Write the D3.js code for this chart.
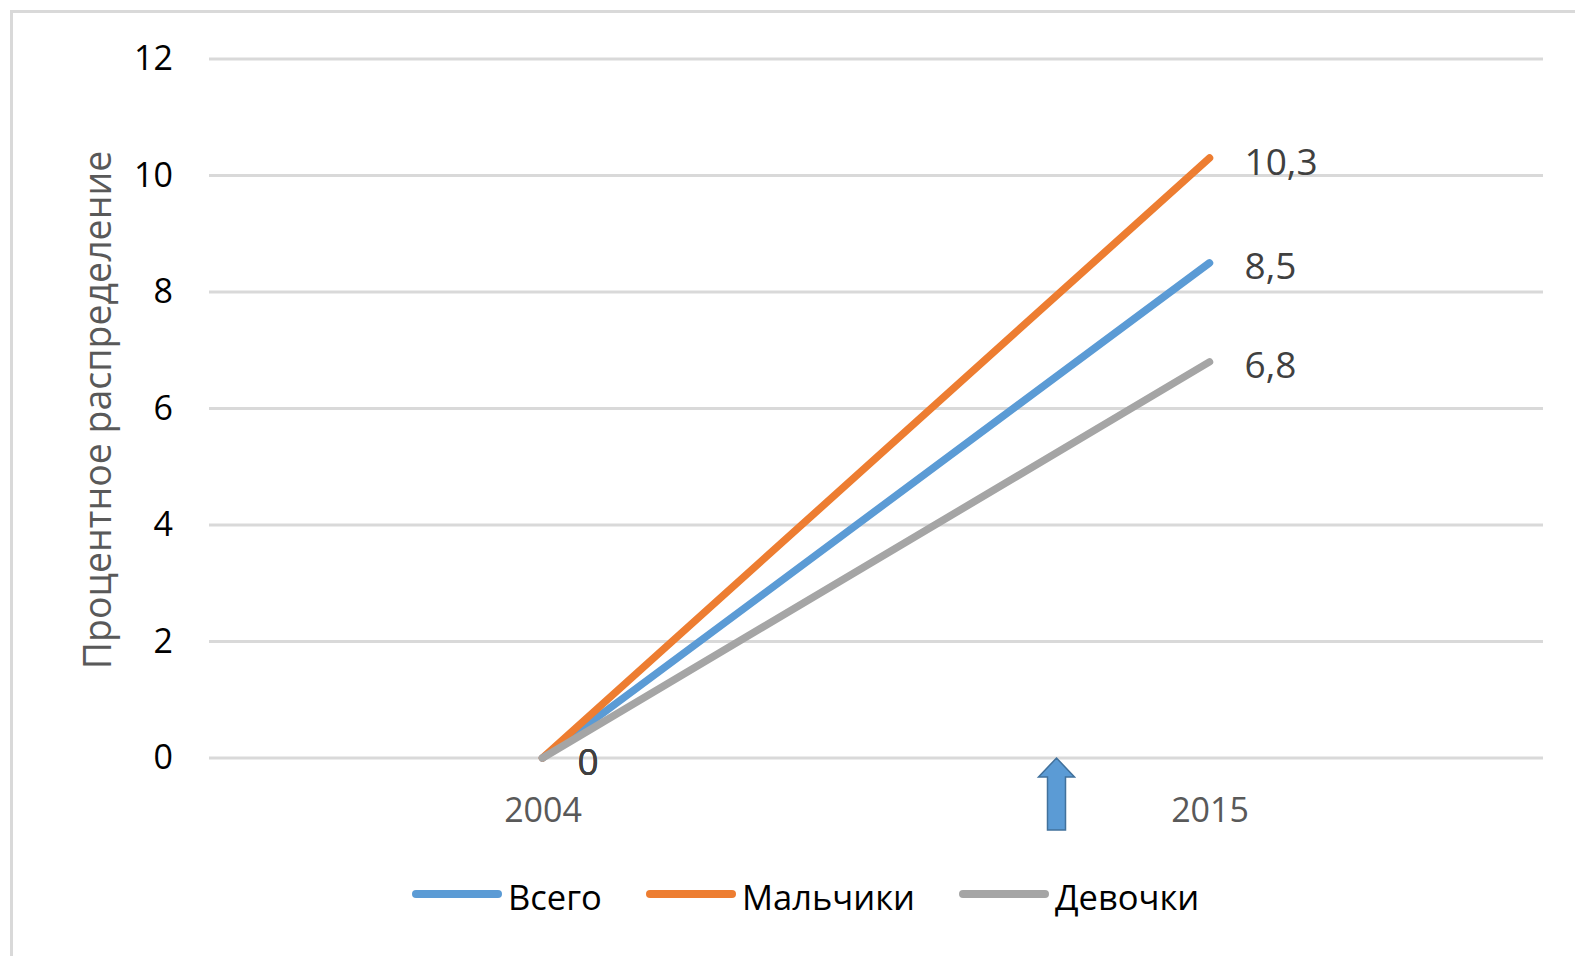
<!DOCTYPE html>
<html>
<head>
<meta charset="utf-8">
<script src="https://cdn.jsdelivr.net/npm/d3@7"></script>
<style>
  body { margin: 0; background: #fff; }
  svg text { font-family: "Open Sans", sans-serif; }
</style>
</head>
<body>
<div id="chart"></div>
<script>
// data
const years = ['2004', '2015'];
const seriesNames = ['Всего', 'Мальчики', 'Девочки'];
const totalValues = [0, 8.5];
const boysValues = [0, 10.3];
const girlsValues = [0, 6.8];
const yTicks = [0, 2, 4, 6, 8, 10, 12];
const colors = ['#5B9BD5', '#ED7D31', '#A5A5A5'];

const width = 1575;
const height = 956;
const margin = { top: 59, right: 32, bottom: 198, left: 209 };

const svg = d3.select('div#chart').append('svg').attr('width', width).attr('height', height);

// chart border
svg.append('rect')
    .attr('x', 11.5).attr('y', 11.5)
    .attr('width', width).attr('height', height)
    .attr('fill', 'none').attr('stroke', '#d9d9d9').attr('stroke-width', 3);

const x = d3.scalePoint().domain(years).range([margin.left, width - margin.right]).padding(0.5);
const y = d3.scaleLinear().domain([0, 12]).range([height - margin.bottom, margin.top]);

// grid
const gridGroup = svg.append('g').attr('class', 'grid');
gridGroup.selectAll('line').data(yTicks).enter().append('line')
    .attr('x1', margin.left).attr('x2', width - margin.right)
    .attr('y1', d => y(d)).attr('y2', d => y(d))
    .attr('stroke', '#d9d9d9').attr('stroke-width', 3);

// y axis
const yAxis = d3.axisLeft(y).tickValues(yTicks).tickSize(0).tickPadding(0);
const yAxisGroup = svg.append('g').attr('transform', `translate(${173},0)`).call(yAxis);
yAxisGroup.select('.domain').remove();
yAxisGroup.selectAll('text').attr('font-size', 34).attr('fill', '#000').attr('font-family', '"Open Sans", sans-serif');

// x axis
const xAxis = d3.axisBottom(x).tickSize(0).tickPadding(0);
const xAxisGroup = svg.append('g').attr('transform', `translate(0,${y(0) + 40})`).call(xAxis);
xAxisGroup.select('.domain').remove();
xAxisGroup.selectAll('text').attr('font-size', 34).attr('fill', '#595959').attr('font-family', '"Open Sans", sans-serif');

// axis title
svg.append('text')
    .attr('transform', `translate(96,${410}) rotate(-90)`)
    .attr('text-anchor', 'middle').attr('dominant-baseline', 'central')
    .attr('font-size', 37.5).attr('fill', '#595959')
    .text('Процентное распределение');

// lines
const series = [
    { name: seriesNames[0], values: totalValues, color: colors[0] },
    { name: seriesNames[1], values: boysValues, color: colors[1] },
    { name: seriesNames[2], values: girlsValues, color: colors[2] },
];
const line = d3.line().x((d, i) => x(years[i])).y(d => y(d));
svg.append('g').selectAll('path').data(series).enter().append('path')
    .attr('d', d => line(d.values))
    .attr('fill', 'none').attr('stroke', d => d.color)
    .attr('stroke-width', 7.5).attr('stroke-linecap', 'round');

// data labels
const labelGroup = svg.append('g');
series.forEach(s => {
    s.values.forEach((v, i) => {
        labelGroup.append('text')
            .attr('x', x(years[i]) + 35).attr('y', y(v) + 2)
            .attr('dominant-baseline', 'central')
            .attr('font-size', 37).attr('fill', '#404040')
            .text(String(v).replace('.', ','));
    });
});

// arrow annotation
const ax = x(years[1]) - 153;
const ay = y(0);
svg.append('path')
    .attr('d', `M${ax},${ay} L${ax + 18},${ay + 19} L${ax + 9},${ay + 19} L${ax + 9},${ay + 72} L${ax - 9},${ay + 72} L${ax - 9},${ay + 19} L${ax - 18},${ay + 19} Z`)
    .attr('fill', '#5B9BD5').attr('stroke', '#41719C').attr('stroke-width', 1.5);

// legend
const legendItems = [
    { name: seriesNames[0], color: colors[0], x: 413 },
    { name: seriesNames[1], color: colors[1], x: 647 },
    { name: seriesNames[2], color: colors[2], x: 960 },
];
const legend = svg.append('g').attr('transform', `translate(0,${894})`);
const li = legend.selectAll('g').data(legendItems).enter().append('g')
    .attr('transform', d => `translate(${d.x},0)`);
li.append('line').attr('x1', 3).attr('x2', 85).attr('y1', 0).attr('y2', 0)
    .attr('stroke', d => d.color).attr('stroke-width', 8).attr('stroke-linecap', 'round');
li.append('text').attr('x', 95).attr('y', 2).attr('dominant-baseline', 'central')
    .attr('font-size', 34.5).attr('fill', '#000')
    .text(d => d.name);
</script>
</body>
</html>
